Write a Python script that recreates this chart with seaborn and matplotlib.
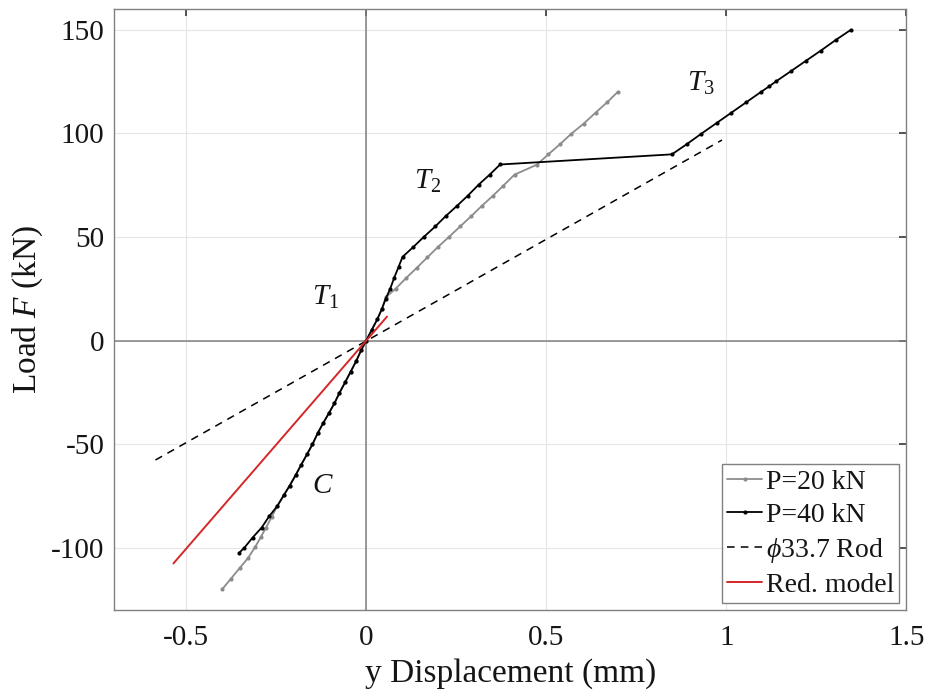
import numpy as np
import pandas as pd
import matplotlib
matplotlib.use("Agg")
import matplotlib.pyplot as plt
import seaborn as sns

# P=40 kN curve (displacement mm, load kN)
p40_x = [-0.352, -0.338, -0.315, -0.290, -0.269, -0.247, -0.229, -0.212, -0.196, -0.180,
         -0.164, -0.149, -0.134, -0.119, -0.103, -0.088, -0.074, -0.058, -0.043, -0.028,
         -0.014, 0.0, 0.015, 0.031, 0.044, 0.054, 0.067, 0.078, 0.090, 0.101, 0.131,
         0.161, 0.192, 0.221, 0.252, 0.282, 0.312, 0.343, 0.372, 0.849, 0.891, 0.931,
         0.973, 1.014, 1.056, 1.097, 1.119, 1.138, 1.180, 1.220, 1.262, 1.304, 1.346]
p40_y = [-102.3, -99.9, -95.0, -90.2, -84.7, -79.9, -74.7, -69.9, -65.0, -59.8,
         -54.8, -50.0, -44.5, -39.7, -34.9, -30.2, -25.2, -20.0, -15.0, -10.0,
         -4.7, 0.0, 5.0, 10.3, 15.4, 20.1, 25.1, 30.4, 35.5, 40.4, 45.2,
         50.2, 55.1, 60.1, 65.0, 69.9, 75.2, 80.1, 85.0, 89.9, 94.9, 99.9,
         105.0, 110.0, 115.1, 120.1, 122.7, 125.1, 130.1, 134.9, 139.9, 145.1, 150.0]

# P=20 kN curve
p20_x = [-0.399, -0.375, -0.350, -0.327, -0.308, -0.292, -0.278, -0.262, -0.247, -0.229,
         -0.212, -0.196, -0.180, -0.164, -0.149, -0.134, -0.119, -0.103, -0.088, -0.074,
         -0.058, -0.043, -0.028, -0.014, 0.0, 0.015, 0.031, 0.044, 0.055, 0.082, 0.111,
         0.141, 0.170, 0.200, 0.231, 0.261, 0.292, 0.321, 0.352, 0.381, 0.412, 0.474,
         0.506, 0.539, 0.570, 0.604, 0.637, 0.669, 0.699]
p20_y = [-119.8, -114.8, -109.5, -104.7, -99.5, -94.7, -90.2, -85.0, -79.9, -74.7,
         -69.9, -65.0, -59.8, -54.8, -50.0, -44.5, -39.7, -34.9, -30.2, -25.2,
         -20.0, -15.0, -10.0, -4.7, 0.0, 5.0, 10.3, 15.4, 21.0, 25.1, 30.2,
         35.2, 40.2, 45.3, 50.2, 55.1, 60.1, 65.0, 69.9, 74.8, 80.1, 84.9,
         89.9, 94.9, 99.9, 104.7, 110.0, 115.0, 120.1]

# phi 33.7 rod (linear)
rod_x = [-0.585, 0.988]
rod_y = [-57.6, 96.8]

# reduced model
red_x = [-0.535, 0.058]
red_y = [-107.5, 11.6]

labels = [(r"$T_{\mathit{1}}$", -0.112, 21), (r"$T_{\mathit{2}}$", 0.17, 77),
          (r"$T_{\mathit{3}}$", 0.928, 124), ("$C$", -0.12, -70)]

sns.set_theme(style="whitegrid")
plt.rcParams["font.family"] = ["Liberation Serif", "DejaVu Serif"]
plt.rcParams["mathtext.fontset"] = "custom"
plt.rcParams["mathtext.rm"] = "Liberation Serif"
plt.rcParams["mathtext.it"] = "Liberation Serif:italic"
plt.rcParams["axes.unicode_minus"] = False
plt.rcParams["text.color"] = "#151515"
plt.rcParams["axes.labelcolor"] = "#151515"
plt.rcParams["xtick.labelcolor"] = "#151515"
plt.rcParams["ytick.labelcolor"] = "#151515"

fig = plt.figure(figsize=(9.3, 6.98), dpi=100)
ax = fig.add_axes([0.1226, 0.126, 0.852, 0.861])

ax.axhline(0, color="#808080", lw=1.1, zorder=1)
ax.axvline(0, color="#808080", lw=1.1, zorder=1)

df20 = pd.DataFrame({"x": p20_x, "y": p20_y})
df40 = pd.DataFrame({"x": p40_x, "y": p40_y})
sns.lineplot(data=df20, x="x", y="y", sort=False, color="#8c8c8c", lw=1.3,
             marker="o", markersize=3, markeredgewidth=0, label="P=20 kN", ax=ax, zorder=3)
sns.lineplot(data=df40, x="x", y="y", sort=False, color="black", lw=1.3,
             marker="o", markersize=3, markeredgewidth=0, label="P=40 kN", ax=ax, zorder=4)
sns.lineplot(x=rod_x, y=rod_y, color="black", lw=1.1, linestyle=(0, (5, 4)),
             label=r"$\phi$33.7 Rod", ax=ax, zorder=2)
sns.lineplot(x=red_x, y=red_y, color="#d62728", lw=1.4, label="Red. model", ax=ax, zorder=5)

for txt, x, y in labels:
    ax.text(x, y, txt, fontsize=21, ha="center", va="center")

ax.set_xlim(-0.7, 1.5)
ax.set_ylim(-130, 160)
ax.set_xticks([-0.5, 0, 0.5, 1, 1.5])
ax.set_xticklabels(["-0.5", "0", "0.5", "1", "1.5"])
ax.set_yticks([-100, -50, 0, 50, 100, 150])
ax.grid(True, color="#e6e6e6", lw=0.8)
for s in ax.spines.values():
    s.set_color("#808080")
    s.set_linewidth(1.0)
ax.tick_params(axis="both", labelsize=21, direction="in", length=5, color="#404040",
               top=True, right=True)
ax.tick_params(axis="x", pad=11)
ax.tick_params(axis="y", pad=7)
ax.set_xlabel("y Displacement (mm)", fontsize=24, labelpad=5)
ax.set_ylabel("Load $F$ (kN)", fontsize=24, labelpad=4)

leg = ax.legend(loc="lower right", fontsize=20, frameon=True, fancybox=False,
                edgecolor="#808080", framealpha=1, handlelength=1.25, borderpad=0.2,
                labelspacing=0.27, handletextpad=0.12, borderaxespad=0.25)
leg.get_frame().set_linewidth(1.0)

fig.savefig("out.png", dpi=100)
